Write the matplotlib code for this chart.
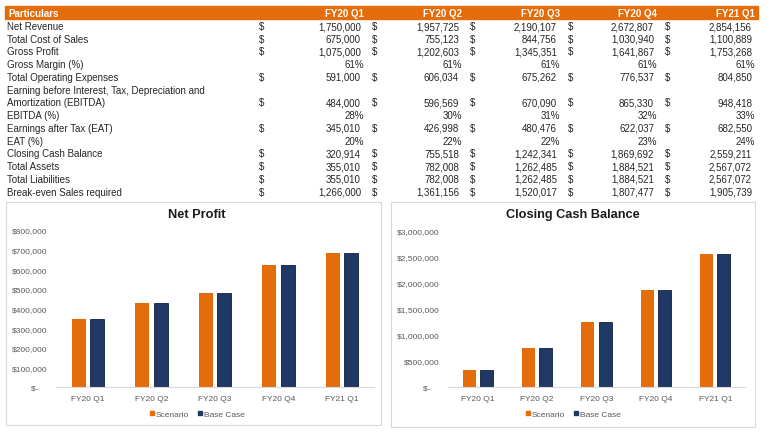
import matplotlib.pyplot as plt
from matplotlib.patches import Rectangle
from matplotlib.ticker import FuncFormatter
from matplotlib.lines import Line2D
import numpy as np

plt.rcParams['font.family'] = ['Liberation Sans', 'DejaVu Sans']

# table data
quarters = ['FY20 Q1', 'FY20 Q2', 'FY20 Q3', 'FY20 Q4', 'FY21 Q1']
row_labels = ['Net Revenue', 'Total Cost of Sales', 'Gross Profit', 'Gross Margin (%)',
              'Total Operating Expenses',
              'Earning before Interest, Tax, Depreciation and\nAmortization (EBITDA)',
              'EBITDA (%)', 'Earnings after Tax (EAT)', 'EAT (%)', 'Closing Cash Balance',
              'Total Assets', 'Total Liabilities', 'Break-even Sales required']
row_is_pct = [False, False, False, True, False, False, True, False, True, False, False, False, False]
net_revenue = [1750000, 1957725, 2190107, 2672807, 2854156]
cost_of_sales = [675000, 755123, 844756, 1030940, 1100889]
gross_profit = [1075000, 1202603, 1345351, 1641867, 1753268]
gross_margin = [61, 61, 61, 61, 61]
operating_exp = [591000, 606034, 675262, 776537, 804850]
ebitda = [484000, 596569, 670090, 865330, 948418]
ebitda_pct = [28, 30, 31, 32, 33]
eat = [345010, 426998, 480476, 622037, 682550]
eat_pct = [20, 22, 22, 23, 24]
closing_cash = [320914, 755518, 1242341, 1869692, 2559211]
total_assets = [355010, 782008, 1262485, 1884521, 2567072]
total_liabilities = [355010, 782008, 1262485, 1884521, 2567072]
break_even = [1266000, 1361156, 1520017, 1807477, 1905739]
row_values = [net_revenue, cost_of_sales, gross_profit, gross_margin, operating_exp, ebitda,
              ebitda_pct, eat, eat_pct, closing_cash, total_assets, total_liabilities, break_even]

# chart data (base case equals scenario)
net_profit_scenario = eat
net_profit_base = eat
cash_scenario = closing_cash
cash_base = closing_cash

ORANGE = '#E46C0A'
NAVY = '#1F3864'
W, H = 770, 439

fig = plt.figure(figsize=(7.7, 4.39), dpi=100)


def fx(x):
    return x / W


def fy(y):
    return 1 - y / H


# table header
fig.patches.append(Rectangle((fx(5), fy(20)), fx(753), 13 / H, transform=fig.transFigure,
                             color=ORANGE, zorder=-1))
fig.text(fx(8), fy(17), 'Particulars', color='white', fontsize=7, fontweight='bold', va='baseline')
col_right = [364, 462, 560, 657, 755]
val_right = [361, 459, 557, 654, 752]
dollar_x = [262, 375, 473, 571, 668]
for j, q in enumerate(quarters):
    fig.text(fx(col_right[j]), fy(17), q, color='white', fontsize=7, fontweight='bold',
             va='baseline', ha='right')

line = 0
fs = 7
tc = '#262626'
for label, vals, pct in zip(row_labels, row_values, row_is_pct):
    nlines = label.count('\n') + 1
    # baseline of each row
    y_first = 30 + 12.74 * line
    y = 30 + 12.74 * (line + nlines - 1)
    for k, part in enumerate(label.split('\n')):
        fig.text(fx(7), fy(y_first + 12.74 * k), part, fontsize=fs, va='baseline', color=tc)
    for j, v in enumerate(vals):
        if pct:
            fig.text(fx(col_right[j]), fy(y), f'{v}%', fontsize=fs, va='baseline', ha='right', color=tc)
        else:
            fig.text(fx(val_right[j]), fy(y), f'{v:,}', fontsize=fs, va='baseline', ha='right', color=tc)
            fig.text(fx(dollar_x[j]), fy(y), '$', fontsize=fs, va='baseline', ha='center', color=tc)
    line += nlines

# chart boxes
for (x0, y0, x1, y1) in [(6, 203, 381, 426), (391, 203, 755, 428)]:
    fig.patches.append(Rectangle((fx(x0), fy(y1)), fx(x1 - x0), (y1 - y0) / H,
                                 transform=fig.transFigure, facecolor='white',
                                 edgecolor='#D9D9D9', linewidth=0.8, zorder=-1))


def money(v, pos):
    if v == 0:
        return '$-    '  # accounting-style zero, padded like Excel
    return f'${v:,.0f}'


def bar_chart(rect, scen, base, ymax, step, title, title_x):
    ax = fig.add_axes(rect)
    ax.patch.set_alpha(0)
    x = np.arange(len(quarters))
    bw = 0.22
    ax.bar(x - 0.145, scen, bw, color=ORANGE, label='Scenario')
    ax.bar(x + 0.145, base, bw, color=NAVY, edgecolor='#0F1F3D', linewidth=0.6, label='Base Case')
    ax.set_xlim(-0.5, len(quarters) - 0.5)
    ax.set_ylim(0, ymax)
    ax.set_yticks(np.arange(0, ymax + 1, step))
    ax.yaxis.set_major_formatter(FuncFormatter(money))
    ax.set_xticks(x)
    ax.set_xticklabels(quarters)
    for s in ['top', 'right', 'left']:
        ax.spines[s].set_visible(False)
    ax.spines['bottom'].set_color('#D9D9D9')
    ax.tick_params(axis='both', length=0, labelsize=6, colors='#595959')
    ax.tick_params(axis='x', pad=6)
    ax.tick_params(axis='y', pad=6)
    fig.text(fx(title_x), fy(215), title, fontsize=9.2, fontweight='bold', ha='center',
             va='center', color='#1a1a1a')
    handles = [Line2D([], [], marker='s', color='none', markerfacecolor=ORANGE,
                      markeredgecolor=ORANGE, markersize=3.5),
               Line2D([], [], marker='s', color='none', markerfacecolor=NAVY,
                      markeredgecolor=NAVY, markersize=3.5)]
    leg = fig.legend(handles, ['Scenario', 'Base Case'], loc='center',
                     bbox_to_anchor=(fx(title_x), fy(415)), ncol=2, frameon=False,
                     fontsize=6, handlelength=0.6, handletextpad=0.2, columnspacing=1.0)
    for t in leg.get_texts():
        t.set_color('#595959')
    return ax


bar_chart([fx(56), fy(388), fx(318), 157 / H], net_profit_scenario, net_profit_base,
          800000, 100000, 'Net Profit', 197)
bar_chart([fx(448), fy(388), fx(297), 156 / H], cash_scenario, cash_base,
          3000000, 500000, 'Closing Cash Balance', 573)

fig.savefig('out.png', dpi=100)
